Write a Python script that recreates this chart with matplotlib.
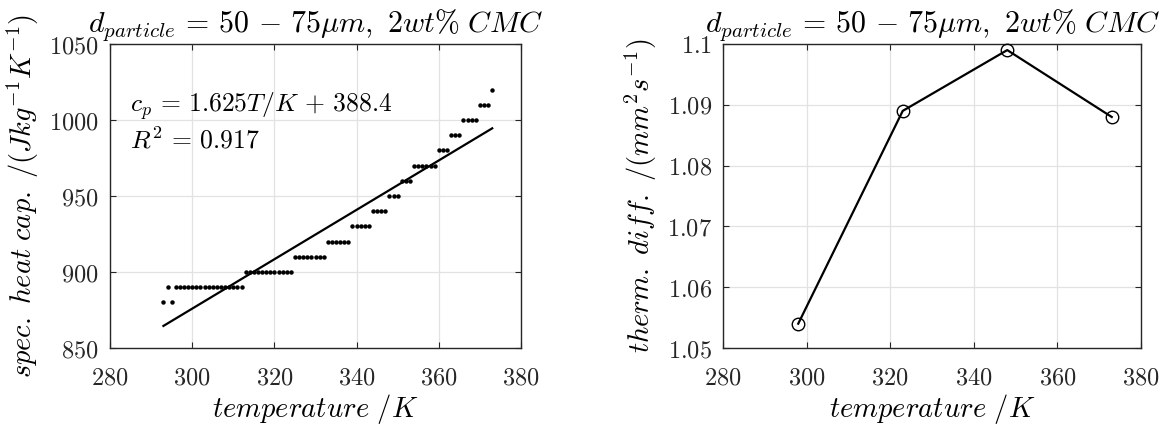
import numpy as np
import matplotlib
matplotlib.use("Agg")
import matplotlib.pyplot as plt
from matplotlib.ticker import FuncFormatter

plt.rcParams['mathtext.fontset'] = 'cm'
plt.rcParams['font.family'] = ['DejaVu Serif']

# ---- data: left panel (specific heat capacity) ----
temp_cp = np.arange(293, 374)
cp_values = ([880, 890, 880] + [890] * 17 + [900] * 12 + [910] * 8 + [920] * 6 +
             [930] * 5 + [940] * 4 + [950] * 3 + [960] * 3 + [970] * 6 +
             [980] * 3 + [990] * 3 + [1000] * 4 + [1010] * 3 + [1020])
fit_slope = 1.625
fit_intercept = 388.4
fit_r2 = 0.917

# ---- data: right panel (thermal diffusivity) ----
temp_td = [298, 323, 348, 373]
td_values = [1.054, 1.089, 1.099, 1.088]

title = r'$d_{particle}\,=\,50\,-\,75\mu m,\ 2wt\%\ CMC$'
xlabel = r'$temperature\ /K$'
ylabel_left = r'$spec.\ heat\ cap.\ /(Jkg^{-1}K^{-1})$'
ylabel_right = r'$therm.\ diff.\ /(mm^2s^{-1})$'
xticks = [280, 300, 320, 340, 360, 380]
yticks_left = [850, 900, 950, 1000, 1050]
yticks_right = [1.05, 1.06, 1.07, 1.08, 1.09, 1.1]

fig = plt.figure(figsize=(11.63, 4.25), dpi=100)
axL = fig.add_axes([110 / 1163, 77 / 425, 411 / 1163, 304 / 425])
axR = fig.add_axes([723 / 1163, 77 / 425, 418 / 1163, 304 / 425])

fmt = FuncFormatter(lambda v, p: r'$%g$' % v)

for ax in (axL, axR):
    ax.set_xlim(280, 380)
    ax.set_xticks(xticks)
    ax.xaxis.set_major_formatter(fmt)
    ax.yaxis.set_major_formatter(fmt)
    ax.grid(True, color='#e2e2e2', lw=0.9)
    ax.set_axisbelow(True)
    ax.tick_params(direction='in', top=True, right=True, length=4, width=0.8,
                   color='#262626', labelsize=17.5, labelcolor='#262626')
    ax.tick_params(axis='x', pad=13)
    ax.tick_params(axis='y', pad=8)
    for s in ax.spines.values():
        s.set_color('#262626')
        s.set_linewidth(1.0)
    ax.set_title(title, fontsize=21.5, pad=9)
    ax.set_xlabel(xlabel, fontsize=20.5, labelpad=2)

# left panel
axL.set_ylim(850, 1050)
axL.set_yticks(yticks_left)
axL.plot(temp_cp, cp_values, 'o', color='black', markersize=2.2, zorder=3)
tfit = np.array([temp_cp[0], temp_cp[-1]])
axL.plot(tfit, fit_slope * tfit + fit_intercept, color='black', lw=1.6, zorder=3)
axL.text(0.048, 0.777, r'$c_p\,=\,%.3fT/K\,+\,%.1f$' % (fit_slope, fit_intercept),
         transform=axL.transAxes, fontsize=18.5, va='baseline', ha='left')
axL.text(0.048, 0.657, r'$R^2\,=\,%.3f$' % fit_r2,
         transform=axL.transAxes, fontsize=18.5, va='baseline', ha='left')
axL.set_ylabel(ylabel_left, fontsize=20.5, labelpad=6)

# right panel
axR.set_ylim(1.05, 1.1)
axR.set_yticks(yticks_right)
axR.plot(temp_td, td_values, '-o', color='black', lw=1.6, markersize=9,
         markerfacecolor='none', markeredgewidth=1.0, zorder=3, clip_on=False)
axR.set_ylabel(ylabel_right, fontsize=20.5, labelpad=6)

fig.savefig('out.png', dpi=100)
